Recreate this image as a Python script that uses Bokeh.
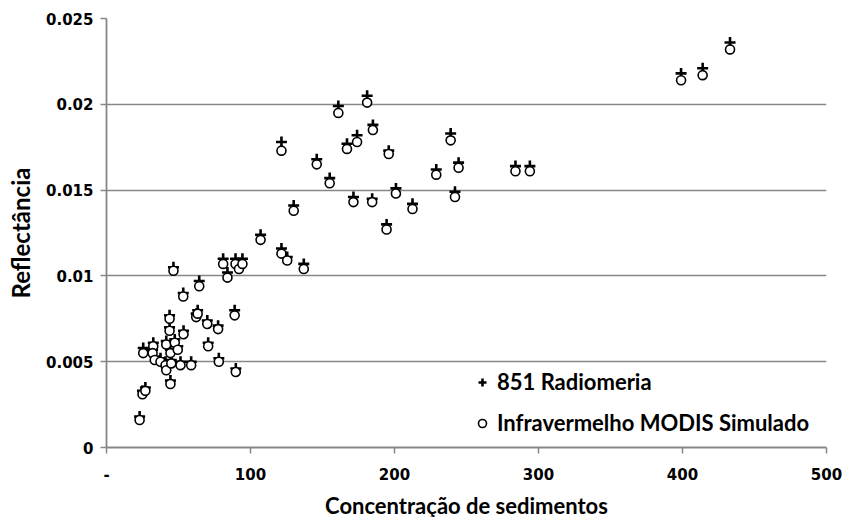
from bokeh.plotting import figure
from bokeh.models import FixedTicker, CustomJSTickFormatter, Legend, LegendItem, Range1d
from bokeh.embed import file_html
from bokeh.resources import INLINE

# Sediment concentration (x)
conc = [23, 25, 27, 25.5, 32.5, 32, 33.5, 37.5, 41, 41.5, 41.5, 43.8, 43.8, 44.4, 45,
        44.4, 46.5, 47.4, 49.5, 51.4, 53.3, 53.5, 58.8, 62.3, 63.3, 64.4, 70, 70.6,
        77.5, 78, 81, 84, 89, 89.8, 89.6, 92, 94.4, 107, 121.5, 121.5, 125.5, 130,
        137, 146, 155, 161, 167, 171.5, 174, 181, 184.5, 185, 194.5, 196, 201, 212.5,
        229, 239, 242, 244.5, 284, 294, 399, 414, 433]

# 851 Radiomeria (cross)
radiometria = [0.0018, 0.0033, 0.0035, 0.0058, 0.0061, 0.0057, 0.0053, 0.0052, 0.0050,
               0.0047, 0.0062, 0.0077, 0.0070, 0.0057, 0.0051, 0.0039, 0.0105, 0.0063,
               0.0059, 0.0050, 0.0090, 0.0068, 0.0050, 0.0078, 0.0080, 0.0097, 0.0074,
               0.0061, 0.0071, 0.0052, 0.0110, 0.0102, 0.0080, 0.0046, 0.0110, 0.0107,
               0.0110, 0.0124, 0.0178, 0.0116, 0.0111, 0.0141, 0.0107, 0.0168, 0.0157,
               0.0199, 0.0177, 0.0146, 0.0182, 0.0205, 0.0145, 0.0188, 0.0130, 0.0173,
               0.0151, 0.0142, 0.0162, 0.0183, 0.0149, 0.0166, 0.0164, 0.0164, 0.0218,
               0.0221, 0.0236]

# Infravermelho MODIS Simulado (open circle)
modis = [0.0016, 0.0031, 0.0033, 0.0055, 0.0059, 0.0055, 0.0051, 0.0050, 0.0048,
         0.0045, 0.0060, 0.0075, 0.0068, 0.0055, 0.0049, 0.0037, 0.0103, 0.0061,
         0.0057, 0.0048, 0.0088, 0.0066, 0.0048, 0.0076, 0.0078, 0.0094, 0.0072,
         0.0059, 0.0069, 0.0050, 0.0107, 0.0099, 0.0077, 0.0044, 0.0107, 0.0104,
         0.0107, 0.0121, 0.0173, 0.0113, 0.0109, 0.0138, 0.0104, 0.0165, 0.0154,
         0.0195, 0.0174, 0.0143, 0.0178, 0.0201, 0.0143, 0.0185, 0.0127, 0.0171,
         0.0148, 0.0139, 0.0159, 0.0179, 0.0146, 0.0163, 0.0161, 0.0161, 0.0214,
         0.0217, 0.0232]

x_ticks = [0, 100, 200, 300, 400, 500]
x_tick_labels = ["-", "100", "200", "300", "400", "500"]
y_ticks = [0, 0.005, 0.01, 0.015, 0.02, 0.025]
y_tick_labels = ["0", "0.005", "0.01", "0.015", "0.02", "0.025"]

GRAY = "#878787"
TICK_FONT = "DejaVu Sans"
TITLE_FONT = "Lato"

p = figure(frame_width=720, frame_height=429,
           x_range=Range1d(0, 500), y_range=Range1d(0, 0.025),
           output_backend="svg", toolbar_location=None,
           min_border_left=106, min_border_right=17, min_border_top=18, min_border_bottom=70)

p.outline_line_color = None
p.xgrid.grid_line_color = None
p.ygrid.grid_line_color = GRAY
p.ygrid.grid_line_width = 1.5

p.xaxis.ticker = FixedTicker(ticks=x_ticks)
p.yaxis.ticker = FixedTicker(ticks=y_ticks)
JS_LOOKUP = """
for (let i = 0; i < tvals.length; i++) {
    if (Math.abs(tvals[i] - tick) < 1e-9) return tlabels[i];
}
return String(tick);
"""
p.xaxis.formatter = CustomJSTickFormatter(
    args=dict(tvals=x_ticks, tlabels=x_tick_labels), code=JS_LOOKUP)
p.yaxis.formatter = CustomJSTickFormatter(
    args=dict(tvals=y_ticks, tlabels=y_tick_labels), code=JS_LOOKUP)

for ax in (p.xaxis[0], p.yaxis[0]):
    ax.axis_line_color = GRAY
    ax.axis_line_width = 1.8
    ax.major_tick_line_color = GRAY
    ax.major_tick_line_width = 1.5
    ax.major_tick_in = 0
    ax.major_tick_out = 6
    ax.minor_tick_line_color = None
    ax.major_label_text_font = TICK_FONT
    ax.major_label_text_font_style = "bold"
    ax.major_label_text_font_size = "15px"
    ax.major_label_text_color = "black"
    ax.axis_label_text_font = TITLE_FONT
    ax.axis_label_text_font_style = "bold"
    ax.axis_label_text_color = "black"

p.xaxis.axis_label = "Concentração de sedimentos"
p.yaxis.axis_label = "Reflectância"
p.xaxis.axis_label_text_font_size = "22px"
p.yaxis.axis_label_text_font_size = "24px"
p.xaxis.major_label_standoff = 14
p.yaxis.major_label_standoff = 7
p.xaxis.axis_label_standoff = 9
p.yaxis.axis_label_standoff = 8

r1 = p.scatter(conc, radiometria, marker="cross", size=11, line_width=2.6,
               line_color="black")
r2 = p.scatter(conc, modis, marker="circle", size=9, line_width=1.6,
               line_color="black", fill_color="white")

legend = Legend(items=[LegendItem(label="851 Radiomeria", renderers=[r1]),
                       LegendItem(label="Infravermelho MODIS Simulado", renderers=[r2])],
                location=(366, 11), orientation="vertical",
                border_line_color=None, background_fill_alpha=0,
                label_text_font=TITLE_FONT, label_text_font_style="bold",
                label_text_font_size="22px", label_text_color="black",
                glyph_width=20, glyph_height=24, label_height=24,
                spacing=14, padding=5, label_standoff=5, margin=0)
p.add_layout(legend)

open("out.html", "w").write(file_html(p, INLINE))
